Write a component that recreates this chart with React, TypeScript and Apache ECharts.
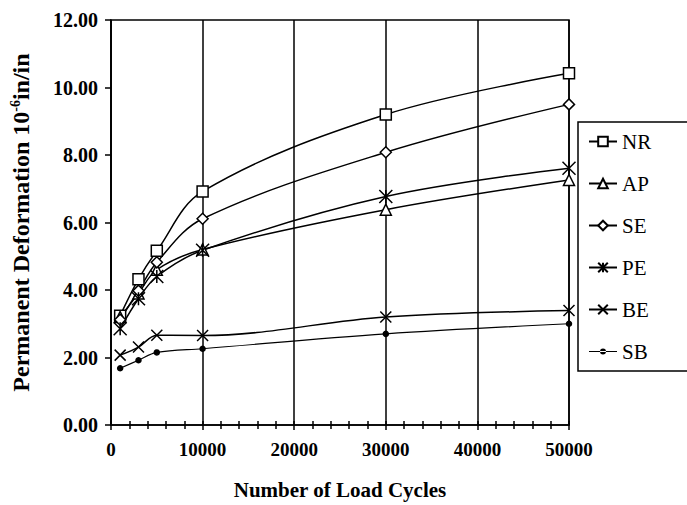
import React, { useEffect, useRef } from "react";
import * as echarts from "echarts";

const cycles = [1000, 3000, 5000, 10000, 30000, 50000];
const seriesNames = ["NR", "AP", "SE", "PE", "BE", "SB"];
const nrValues = [3.24, 4.32, 5.16, 6.92, 9.2, 10.42];
const apValues = [3.2, 3.9, 4.6, 5.2, 6.38, 7.26];
const seValues = [3.12, 3.98, 4.82, 6.11, 8.08, 9.5];
const peValues = [2.85, 3.74, 4.4, 5.18, 6.77, 7.61];
const beValues = [2.07, 2.31, 2.66, 2.65, 3.2, 3.39];
const sbValues = [1.68, 1.92, 2.15, 2.26, 2.7, 3.0];

const FONT = "'Liberation Serif', 'Times New Roman', serif";

export default function App() {
  const ref = useRef<HTMLDivElement>(null);
  useEffect(() => {
    if (!ref.current) return;
    const chart = echarts.init(ref.current, undefined, { renderer: "svg" });
    const valuesList = [nrValues, apValues, seValues, peValues, beValues, sbValues];
    const symbols: any[] = [
      { symbol: "rect", size: 11, fill: "#fff" },
      { symbol: "triangle", size: 11, fill: "#fff" },
      { symbol: "diamond", size: 11, fill: "#fff" },
      { symbol: "path://M0,0L10,10M10,0L0,10M5,0L5,10", size: 13, fill: "#000" },
      { symbol: "path://M0,0L10,10M10,0L0,10", size: 11, fill: "#000" },
      { symbol: "circle", size: 5, fill: "#000" },
    ];
    const series = seriesNames.map((name, i) => ({
      name,
      type: "line",
      xAxisIndex: 0,
      yAxisIndex: 0,
      smooth: 0.35,
      data: cycles.map((c, j) => [c, valuesList[i][j]]),
      symbol: symbols[i].symbol,
      symbolSize: symbols[i].size,
      showAllSymbol: true,
      lineStyle: { color: "#000", width: i === 5 ? 1.2 : 1.5 },
      itemStyle: { color: symbols[i].fill, borderColor: "#000", borderWidth: 1.5 },
      emphasis: { disabled: true },
      z: 5,
    }));
    const sbIcon =
      "path://M0,0L0.05,0L0.05,0.05Z M0,12L0.05,12L0.05,11.95Z M0,5.4L28,5.4L28,6.6L0,6.6Z M11,6a3,3 0 1,0 6,0a3,3 0 1,0 -6,0Z";
    chart.setOption({
      animation: false,
      backgroundColor: "#fff",
      grid: {
        left: 108,
        right: 118,
        top: 20,
        bottom: 78,
        show: true,
        borderColor: "#000",
        borderWidth: 1.5,
        backgroundColor: "transparent",
      },
      legend: {
        orient: "vertical",
        left: 578,
        top: 122,
        padding: [9, 60, 9, 10],
        itemGap: 21,
        itemWidth: 28,
        itemHeight: 12,
        borderColor: "#000",
        borderWidth: 1.5,
        backgroundColor: "#fff",
        data: seriesNames.map((n) =>
          n === "SB" ? { name: n, icon: sbIcon, itemStyle: { color: "#000", borderWidth: 0 } } : { name: n }
        ),
        textStyle: { fontFamily: FONT, fontSize: 21, color: "#000", padding: [0, 0, 0, 0] },
      },
      xAxis: [
        {
          type: "value",
          min: 0,
          max: 50000,
          interval: 10000,
          name: "Number of Load Cycles",
          nameLocation: "middle",
          nameGap: 54,
          nameTextStyle: { fontFamily: FONT, fontSize: 21, fontWeight: "bold", color: "#000" },
          axisLine: { show: true, lineStyle: { color: "#000", width: 1.5 } },
          axisTick: { show: true, length: 5, lineStyle: { color: "#000", width: 1.5 } },
          minorTick: { show: true, splitNumber: 5, length: 4, lineStyle: { color: "#000", width: 1.5 } },
          axisLabel: {
            fontFamily: FONT,
            fontSize: 19,
            fontWeight: "bold",
            color: "#000",
            margin: 15,
            formatter: (v: number) => String(v),
          },
          splitLine: { show: true, lineStyle: { color: "#000", width: 1.5 } },
        },
        {
          type: "value",
          min: 0,
          max: 50000,
          interval: 10000,
          position: "bottom",
          axisLine: { show: false },
          axisTick: { show: true, inside: true, length: 4, lineStyle: { color: "#000", width: 1.5 } },
          minorTick: { show: true, splitNumber: 5, length: 4, lineStyle: { color: "#000", width: 1.5 } },
          axisLabel: { show: false },
          splitLine: { show: false },
        },
      ],
      yAxis: {
        type: "value",
        min: 0,
        max: 12,
        interval: 2,
        name: "Permanent Deformation 10{sup|-6}in/in",
        nameLocation: "middle",
        nameGap: 78,
        nameRotate: 90,
        nameTextStyle: {
          fontFamily: FONT,
          fontSize: 24,
          fontWeight: "bold",
          color: "#000",
          rich: {
            sup: { fontFamily: FONT, fontSize: 14, fontWeight: "bold", color: "#000", verticalAlign: "top", padding: [0, 0, 11, 0] },
          },
        },
        axisLine: { show: true, lineStyle: { color: "#000", width: 1.5 } },
        axisTick: { show: true, length: 6, lineStyle: { color: "#000", width: 1.5 } },
        axisLabel: {
          fontFamily: FONT,
          fontSize: 20,
          fontWeight: "bold",
          color: "#000",
          margin: 13,
          formatter: (v: number) => v.toFixed(2),
        },
        splitLine: { show: false },
      },
      series,
    });
    return () => chart.dispose();
  }, []);
  return <div ref={ref} style={{ width: 687, height: 505, position: "absolute", left: 0, top: 0 }} />;
}
